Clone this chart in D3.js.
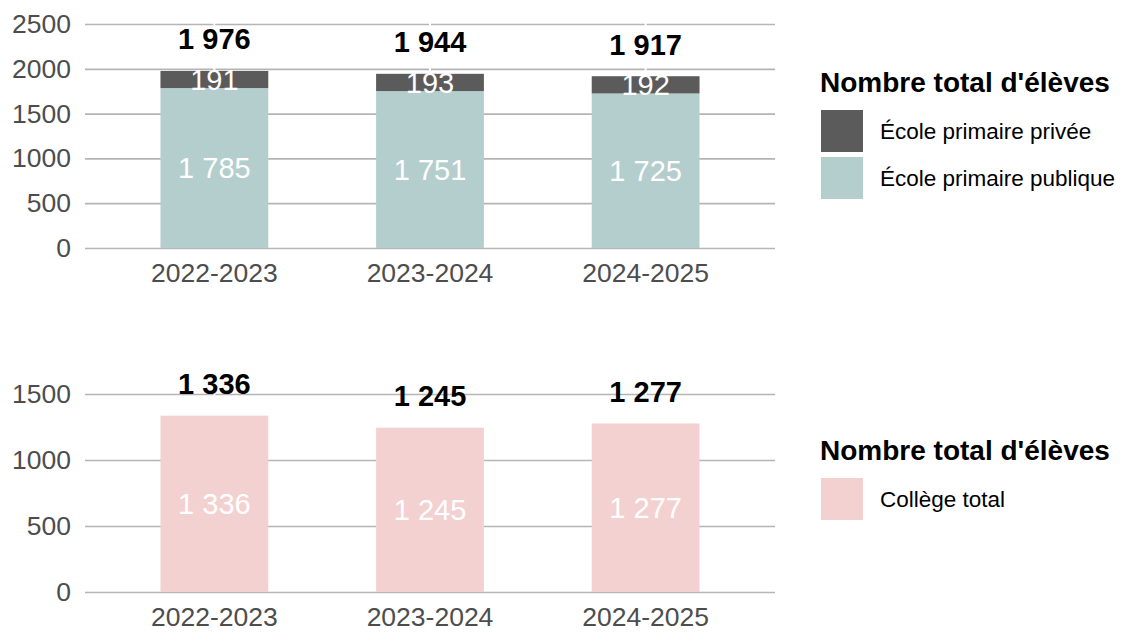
<!DOCTYPE html>
<html>
<head>
<meta charset="utf-8">
<script src="https://cdn.jsdelivr.net/npm/d3@7"></script>
<style>
  body { margin: 0; background: #fff; }
  svg { font-family: "Liberation Sans", Arial, sans-serif; }
</style>
</head>
<body>
<svg id="chart" width="1124" height="632"></svg>
<script>
// data
const years = ["2022-2023", "2023-2024", "2024-2025"];
const primPublique = [1785, 1751, 1725];
const primPrivee = [191, 193, 192];
const primTotal = [1976, 1944, 1917];
const college = [1336, 1245, 1277];
const ticksTop = [0, 500, 1000, 1500, 2000, 2500];
const ticksBottom = [0, 500, 1000, 1500];
const legendTitle = "Nombre total d'élèves";

const colPrivee = "#5b5b5b", colPublique = "#b4cecd", colCollege = "#f4d1d1";
const fmt = v => d3.format(",")(v).replace(/,/g, " ");

let svg = d3.select("#chart");
const left = 85, right = 775;

const x = d3.scaleBand().domain(years).range([left, right])
  .paddingInner(0.5).paddingOuter(0.35);

function panel(yRange, yMax, ticks, series, totals, legendY, legendItems) {
  let y = d3.scaleLinear().domain([0, yMax]).range(yRange);
  let g = svg.append("g");

  // grid + y labels
  g.append("g")
    .attr("transform", "translate(" + left + ",0)")
    .call(d3.axisLeft(y).tickValues(ticks).tickSize(-(right - left)).tickPadding(14).tickFormat(d3.format("d")))
    .call(a => a.select(".domain").remove())
    .call(a => a.selectAll("line").attr("stroke", "#b5b5b5").attr("stroke-width", 1.7))
    .call(a => a.selectAll("text").attr("fill", "#4d4d4d").style("font-size", "26.5px"));

  // thin white separator above bars
  g.selectAll(".sep").data(years).enter().append("line")
    .attr("x1", d => x(d) + x.bandwidth() / 2).attr("x2", d => x(d) + x.bandwidth() / 2)
    .attr("y1", y(yMax) - 6).attr("y2", (d, i) => y(totals[i]))
    .attr("stroke", "#fff").attr("stroke-width", 2);

  // stacked bars
  series.forEach(s => {
    g.selectAll(null).data(years).enter().append("rect")
      .attr("x", d => x(d))
      .attr("width", x.bandwidth())
      .attr("y", (d, i) => y(s.base[i] + s.values[i]))
      .attr("height", (d, i) => y(s.base[i]) - y(s.base[i] + s.values[i]))
      .attr("fill", s.color);
    g.selectAll(null).data(years).enter().append("text")
      .attr("x", d => x(d) + x.bandwidth() / 2)
      .attr("y", (d, i) => y(s.base[i] + s.values[i] / 2))
      .attr("dy", "0.36em")
      .attr("text-anchor", "middle")
      .attr("fill", "#fff")
      .style("font-size", "29px")
      .text((d, i) => fmt(s.values[i]));
  });

  // totals
  g.selectAll(".tot").data(years).enter().append("text")
    .attr("x", d => x(d) + x.bandwidth() / 2)
    .attr("y", (d, i) => y(totals[i]) - 32)
    .attr("dy", "0.36em")
    .attr("text-anchor", "middle")
    .attr("fill", "#000")
    .style("font-size", "29px").style("font-weight", "bold")
    .text((d, i) => fmt(totals[i]));

  // x labels
  g.selectAll(".xl").data(years).enter().append("text")
    .attr("x", d => x(d) + x.bandwidth() / 2)
    .attr("y", y(0) + 34)
    .attr("text-anchor", "middle")
    .attr("fill", "#4d4d4d")
    .style("font-size", "26.5px")
    .text(d => d);

  // legend
  let lg = svg.append("g").attr("transform", "translate(820," + legendY + ")");
  lg.append("text").attr("x", 0).attr("y", 0).attr("dy", "0.36em")
    .style("font-size", "28px").style("font-weight", "bold").attr("fill", "#000")
    .text(legendTitle);
  legendItems.forEach((it, i) => {
    lg.append("rect").attr("x", 1).attr("y", 28 + i * 47).attr("width", 42).attr("height", 42)
      .attr("fill", it.color);
    lg.append("text").attr("x", 60).attr("y", 49 + i * 47).attr("dy", "0.36em")
      .style("font-size", "22.5px").attr("fill", "#000").text(it.label);
  });
}

panel([248, 24], 2500, ticksTop,
  [{ values: primPublique, base: [0, 0, 0], color: colPublique },
   { values: primPrivee, base: primPublique, color: colPrivee }],
  primTotal, 82,
  [{ label: "École primaire privée", color: colPrivee },
   { label: "École primaire publique", color: colPublique }]);

panel([592, 394], 1500, ticksBottom,
  [{ values: college, base: [0, 0, 0], color: colCollege }],
  college, 450,
  [{ label: "Collège total", color: colCollege }]);
</script>
</body>
</html>
